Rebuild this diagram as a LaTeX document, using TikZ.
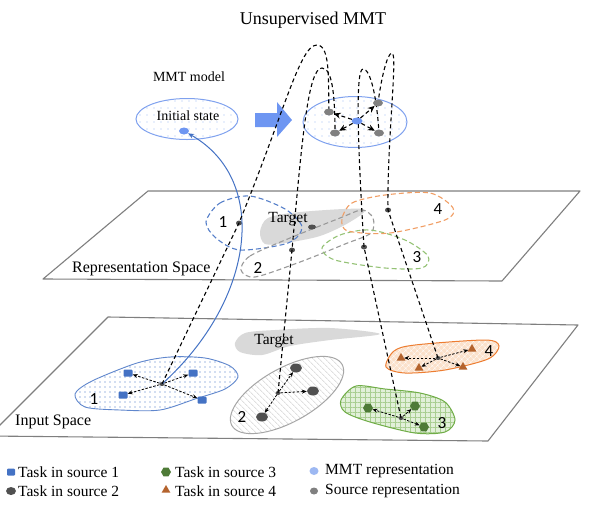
\documentclass[tikz,border=0pt]{standalone}
\usepackage{fontspec}
\setmainfont{Liberation Serif}
\newfontfamily\numfont{Carlito}
\usetikzlibrary{patterns.meta,arrows.meta,shapes.geometric}
\definecolor{planegray}{HTML}{7F7F7F}
\definecolor{mblue}{HTML}{4472C4}
\definecolor{lblue}{HTML}{7FA1EE}
\definecolor{arrowblue}{HTML}{6E96F2}
\definecolor{dotblue}{HTML}{9DB8F2}
\definecolor{morange}{HTML}{ED7D31}
\definecolor{lorange}{HTML}{FBE1CB}
\definecolor{tribrown}{HTML}{B4632D}
\definecolor{mgreen}{HTML}{70AD47}
\definecolor{lgreen}{HTML}{E2F0D9}
\definecolor{dgreen}{HTML}{4E7B37}
\definecolor{dgray}{HTML}{505050}
\definecolor{tgray}{HTML}{D9D9D9}
\tikzset{
  plane/.style={draw=planegray, line width=1.1pt, fill=white, line join=round},
  dcurve/.style={line width=1.1pt, dash pattern=on 4pt off 3pt},
  smallarr/.style={line width=0.8pt, dash pattern=on 2.5pt off 1.5pt, -{Stealth[length=5pt,width=4pt]}},
  bigarr/.style={line width=1.1pt, dash pattern=on 4pt off 3pt, -{Stealth[length=7pt,width=6pt]}},
  repline/.style={line width=1.1pt, dash pattern=on 5pt off 3pt},
  lbl/.style={inner sep=0, font=\fontsize{15.5}{17}\selectfont},
  num/.style={inner sep=0, font=\numfont\fontsize{17}{19}\selectfont},
  sq/.style={rectangle, fill=mblue, minimum width=9pt, minimum height=7pt, rounded corners=1pt, inner sep=0},
  gd/.style={ellipse, fill=dgray, minimum width=12pt, minimum height=9pt, inner sep=0},
  hx/.style={regular polygon, regular polygon sides=6, fill=dgreen, minimum size=10pt, inner sep=0},
  tr/.style={regular polygon, regular polygon sides=3, fill=tribrown, minimum size=10pt, inner sep=0},
  cdot/.style={ellipse, fill=dgray, minimum width=5pt, minimum height=4pt, inner sep=0},
  rdot/.style={ellipse, fill=dgray, minimum width=6pt, minimum height=5pt, inner sep=0},
  mdot/.style={ellipse, fill=gray, minimum width=10pt, minimum height=7pt, inner sep=0},
}
\begin{document}
\begin{tikzpicture}[x=1pt,y=-1pt]
\useasboundingbox (0,0) rectangle (600,507);

% ---------- planes ----------
\draw[plane] (108,317) -- (578,325) -- (488,441) -- (-11,436) -- cycle;
\draw[plane] (148,191) -- (580,191) -- (502,281) -- (43,279) -- cycle;

% ---------- input space regions ----------
\fill[tgray] plot[smooth cycle] coordinates {(235,343) (245,333) (275,330) (330,328) (380,334) (330,340) (290,346) (262,355) (240,352)};
\draw[mblue!85, line width=0.9pt, pattern={Dots[distance=5pt,radius=0.6pt]}, pattern color=mblue]
  plot[smooth cycle] coordinates {(75,394) (92,381) (137,363) (170,357) (205,358) (230,366) (238,377) (225,389) (195,399) (160,410) (120,410) (85,407)};
\draw[gray!70, line width=1pt, preaction={fill=white}, pattern={Lines[angle=-45,distance=4pt,line width=1pt]}, pattern color=gray!25]
  [shift={(287,395)}, rotate=29] (0,0) ellipse [x radius=63, y radius=27];
\draw[mgreen, line width=1pt, preaction={fill=lgreen}, pattern={Hatch[distance=5pt,line width=0.5pt]}, pattern color=mgreen!60]
  plot[smooth cycle] coordinates {(341,400) (356,386) (385,389) (420,393) (445,402) (455,420) (445,432) (415,433) (370,422) (345,412)};
\draw[morange, line width=1pt, preaction={fill=lorange}, pattern={Hatch[angle=45,distance=4pt,line width=0.4pt]}, pattern color=white]
  plot[smooth cycle] coordinates {(386,367) (394,351) (415,345) (485,340) (499,346) (488,359) (445,370) (405,373)};

\node[lbl] (tin) at (274,341) {Target};
\node[lbl, font=\fontsize{16}{18}\selectfont, anchor=west] (inspace) at (15,422) {Input Space};
\node[num] (n1) at (94,399) {1};
\node[num] (n2) at (242,417) {2};
\node[num] (n3) at (442,423) {3};
\node[num] (n4) at (489,351) {4};

% ---------- representation space regions ----------
\fill[tgray] plot[smooth cycle] coordinates {(260,232) (268,218) (300,212) (363,209) (350,222) (320,236) (285,243) (265,244)};
\draw[repline, mblue!90!white] plot[smooth cycle] coordinates {(206,222) (220,203) (250,196) (285,209) (302,227) (288,243) (240,250) (216,238)};
\draw[repline, gray!80] plot[smooth cycle] coordinates {(241,270) (250,256) (290,238) (340,218) (362,210) (373,218) (371,233) (345,244) (300,262) (255,277)};
\draw[repline, mgreen!75] plot[smooth cycle] coordinates {(322,248) (340,235) (370,230) (405,240) (428,256) (422,268) (385,268) (335,260)};
\draw[repline, morange!75] plot[smooth cycle] coordinates {(342,219) (352,203) (385,195) (430,193) (453,208) (445,220) (390,233) (348,231)};
\node[lbl] (trep) at (288,219) {Target};
\node[lbl, font=\fontsize{16}{18}\selectfont, anchor=west] (repspace) at (72,269) {Representation Space};
\node[num] (rn1) at (223,222) {1};
\node[num] (rn2) at (258,268) {2};
\node[num] (rn3) at (417,257) {3};
\node[num] (rn4) at (438,209) {4};

% ---------- top: MMT model ----------
\node[lbl, font=\fontsize{18}{20}\selectfont] (title) at (313,20) {Unsupervised MMT};
\node[lbl, font=\fontsize{14}{16}\selectfont] (mmtlabel) at (189,77) {MMT model};
\node[ellipse, draw=lblue, line width=1pt, minimum width=102pt, minimum height=41pt, inner sep=0,
      pattern={Dots[distance=7pt,radius=0.65pt]}, pattern color=dotblue] (init) at (187,119) {};
\node[lbl, font=\fontsize{14}{16}\selectfont] (inittext) at (188,116) {Initial state};
\node[ellipse, fill=arrowblue, minimum width=10pt, minimum height=7pt, inner sep=0] (blob) at (184,131) {};
\node[ellipse, draw=lblue, line width=1pt, minimum width=104pt, minimum height=51pt, inner sep=0,
      pattern={Dots[distance=7pt,radius=0.65pt]}, pattern color=dotblue] (mmt) at (355,122) {};
\fill[arrowblue] (255,113) -- (277,113) -- (277,102) -- (292,120) -- (277,137) -- (277,127) -- (255,127) -- cycle;

% ---------- points ----------
\node[cdot] (i1) at (162,384) {};
\node[cdot] (i2) at (278,393) {};
\node[cdot] (i3) at (401,418) {};
\node[cdot] (i4) at (438,358) {};
\node[rdot] (r1) at (239,223) {};
\node[rdot] (r2) at (292,250) {};
\node[rdot] (r3) at (364,247) {};
\node[rdot] (r4) at (388,210) {};
\node[rdot, minimum width=8pt] (rt) at (312,227) {};
\coordinate (pk1) at (317,45);
\coordinate (pk2) at (322,68);
\coordinate (pk3) at (363,69);
\coordinate (pk4) at (392,53);
\coordinate (m1c) at (329,112);
\coordinate (m2c) at (335,133);
\coordinate (m3c) at (379,133);
\coordinate (m4c) at (378,103);

% ---------- blue solid curve ----------
\draw[mblue, line width=1pt, -{Stealth[length=6pt,width=5pt]}] (i1.center) .. controls (255,300) and (270,180) .. (blob);

% ---------- dashed curves ----------
\draw[dcurve] (i1.center) -- (r1.center) .. controls (285,110) and (300,45) .. (pk1) .. controls (331,45) and (328,85) .. (m1c);
\draw[dcurve] (i2.center) -- (r2.center) .. controls (302,140) and (308,68) .. (pk2) .. controls (333,68) and (335,100) .. (m2c);
\draw[dcurve] (i3.center) -- (r3.center) .. controls (358,150) and (355,69) .. (pk3) .. controls (371,69) and (377,100) .. (m3c);
\draw[dcurve] (i4.center) -- (r4.center) .. controls (387,140) and (398,53) .. (pk4) .. controls (387,53) and (381,80) .. (m4c);

% ---------- top ellipse contents ----------
\node[mdot] (m1) at (m1c) {};
\node[mdot] (m2) at (m2c) {};
\node[mdot] (m3) at (m3c) {};
\node[mdot] (m4) at (m4c) {};
\node[ellipse, fill=arrowblue, minimum width=11pt, minimum height=7pt, inner sep=0] (mc) at (357,121) {};
\draw[bigarr] (mc) -- (m1);
\draw[bigarr] (mc) -- (m2);
\draw[bigarr] (mc) -- (m3);
\draw[bigarr] (mc) -- (m4);

% ---------- input icons ----------
\node[sq] (s11) at (128,373) {};
\node[sq] (s12) at (193,373) {};
\node[sq] (s13) at (123,395) {};
\node[sq] (s14) at (202,400) {};
\node[gd] (g21) at (296,368) {};
\node[gd] (g22) at (313,391) {};
\node[gd] (g23) at (262,417) {};
\node[hx] (h31) at (368,408) {};
\node[hx] (h32) at (415,406) {};
\node[hx] (h33) at (424,427) {};
\node[tr] (t41) at (401,358) {};
\node[tr] (t42) at (472,349) {};
\node[tr] (t43) at (419,368) {};
\node[tr] (t44) at (463,367) {};
\foreach \a/\b in {i1/s11,i1/s12,i1/s13,i1/s14,i2/g21,i2/g22,i2/g23,i3/h31,i3/h32,i3/h33,i4/t41,i4/t42,i4/t43,i4/t44}
  \draw[smallarr] (\a) -- (\b);

% ---------- legend ----------
\node[sq, minimum width=8pt, minimum height=7pt] (lg1) at (11,472) {};
\node[lbl, anchor=west] (lt1) at (18,472) {Task in source 1};
\node[gd, minimum width=10pt, minimum height=8pt] (lg2) at (11,491) {};
\node[lbl, anchor=west] (lt2) at (18,491) {Task in source 2};
\node[hx, minimum size=10pt] (lg3) at (166,472) {};
\node[lbl, anchor=west] (lt3) at (175,472) {Task in source 3};
\node[tr, minimum size=10pt] (lg4) at (166,490) {};
\node[lbl, anchor=west] (lt4) at (175,491) {Task in source 4};
\node[ellipse, fill=dotblue, minimum width=9pt, minimum height=8pt, inner sep=0] (lg5) at (314,471) {};
\node[lbl, anchor=west] (lt5) at (325,471) {MMT representation};
\node[ellipse, fill=gray, minimum width=8pt, minimum height=7pt, inner sep=0] (lg6) at (314,491) {};
\node[lbl, anchor=west] (lt6) at (325,491) {Source representation};
\end{tikzpicture}
\end{document}
